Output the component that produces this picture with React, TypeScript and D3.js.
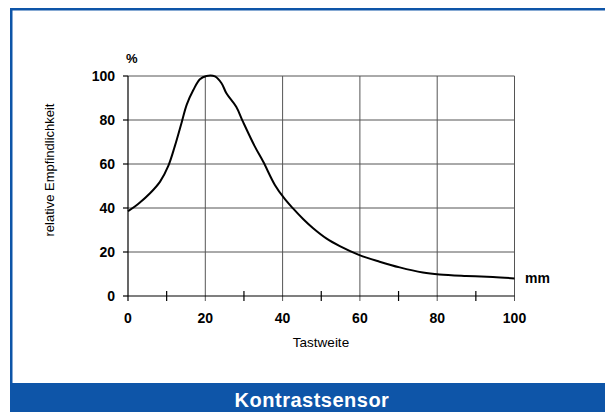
import React from "react";
import * as d3 from "d3";

const distance = [0, 3, 5.7, 8.3, 10.4, 12.1, 13.9, 15.2, 16.9, 18.6, 20.3, 22.5, 24.2, 25.5, 28, 29.8, 32.8, 35, 38, 40.6, 42.7, 45.3, 47.9, 51.3, 54.8, 59.9, 65.1, 70.3, 76.3, 80.6, 87.5, 94.4, 100];
const sensitivity = [38.5, 42.4, 46.7, 52, 59, 68, 79, 87, 93.6, 98.5, 100, 99.8, 96.7, 92, 86, 79, 68, 61, 50.5, 44, 39.8, 35, 30.8, 26.2, 22.7, 18.6, 15.6, 13, 10.7, 9.8, 9.1, 8.6, 8];
const xTicks = [0, 20, 40, 60, 80, 100];
const xMinorTicks = [10, 30, 50, 70, 90];
const yTicks = [0, 20, 40, 60, 80, 100];

const title = "Kontrastsensor";
const xLabel = "Tastweite";
const yLabel = "relative Empfindlichkeit";
const xUnit = "mm";
const yUnit = "%";

const FONT = "'Liberation Sans', Arial, sans-serif";
const BLUE = "#0E55A8";

export default function App() {
  const x = d3.scaleLinear().domain([0, 100]).range([128, 514.5]);
  const y = d3.scaleLinear().domain([0, 100]).range([296, 76]);
  const pts = distance.map((d, i) => [d, sensitivity[i]] as [number, number]);
  const line = d3
    .line<[number, number]>()
    .x((d) => x(d[0]))
    .y((d) => y(d[1]))
    .curve(d3.curveCatmullRom.alpha(0.5));

  return (
    <svg
      width={605}
      height={412}
      style={{ position: "absolute", left: 0, top: 0, background: "#fff" }}
      fontFamily={FONT}
    >
      {/* frame */}
      <rect x={10} y={8} width={595} height={2.5} fill={BLUE} />
      <rect x={10} y={8} width={2.5} height={376} fill={BLUE} />
      <rect x={10} y={383} width={595} height={29} fill={BLUE} />
      <text
        x={312}
        y={406.5}
        textAnchor="middle"
        fontSize={20}
        fontWeight="bold"
        fill="#fff"
        letterSpacing={0.5}
      >
        {title}
      </text>

      {/* grid */}
      {yTicks.filter((t) => t > 0).map((t) => (
        <line key={"gy" + t} x1={x(0)} x2={x(100)} y1={y(t)} y2={y(t)} stroke="#555" strokeWidth={1} />
      ))}
      {xTicks.filter((t) => t > 0).map((t) => (
        <line key={"gx" + t} x1={x(t)} x2={x(t)} y1={y(100)} y2={y(0) + 5} stroke="#555" strokeWidth={1} />
      ))}

      {/* axes */}
      <line x1={x(0)} x2={x(0)} y1={y(100)} y2={y(0) + 5} stroke="#000" strokeWidth={1.2} />
      <line x1={x(0)} x2={x(100)} y1={y(0)} y2={y(0)} stroke="#000" strokeWidth={1.2} />
      {yTicks.map((t) => (
        <line key={"ty" + t} x1={x(0) - 5} x2={x(0)} y1={y(t)} y2={y(t)} stroke="#000" strokeWidth={1.2} />
      ))}
      {xMinorTicks.map((t) => (
        <line key={"tm" + t} x1={x(t)} x2={x(t)} y1={y(0) - 5} y2={y(0) + 5} stroke="#000" strokeWidth={1.2} />
      ))}

      {/* tick labels */}
      {yTicks.map((t) => (
        <text key={"ly" + t} x={115} y={y(t) + 4.8} textAnchor="end" fontSize={14} fontWeight="bold" fill="#000">
          {t}
        </text>
      ))}
      {xTicks.map((t) => (
        <text key={"lx" + t} x={x(t)} y={323} textAnchor="middle" fontSize={14} fontWeight="bold" fill="#000">
          {t}
        </text>
      ))}

      <text x={126} y={62.5} fontSize={13} fontWeight="bold" fill="#000">
        {yUnit}
      </text>
      <text x={525} y={282.5} fontSize={14} fontWeight="bold" fill="#000">
        {xUnit}
      </text>

      <text x={321} y={347} textAnchor="middle" fontSize={13.5} fill="#000">
        {xLabel}
      </text>
      <text
        transform={`translate(54,170) rotate(-90)`}
        textAnchor="middle"
        fontSize={13}
        fill="#000"
      >
        {yLabel}
      </text>

      {/* curve */}
      <path d={line(pts) || ""} fill="none" stroke="#000" strokeWidth={2} strokeLinejoin="round" />
    </svg>
  );
}
